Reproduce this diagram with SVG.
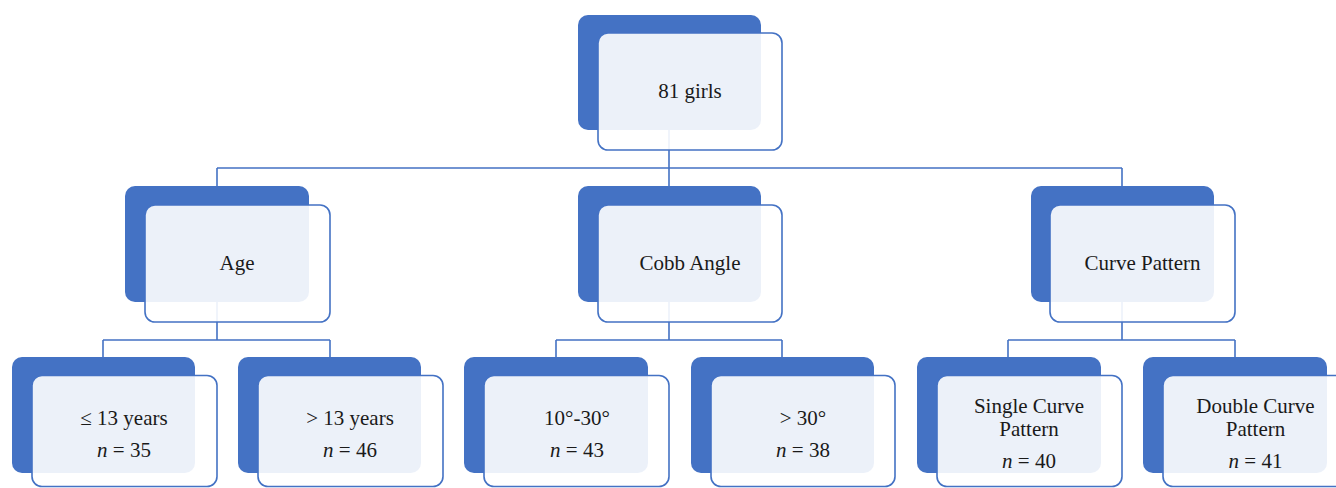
<svg xmlns="http://www.w3.org/2000/svg" width="1336" height="488" viewBox="0 0 1336 488">
  <style>
    .back { fill: #4472c4; }
    .front { fill: #ffffff; fill-opacity: 0.9; stroke: #4472c4; stroke-width: 1.6; }
    .link { fill: none; stroke: #4472c4; stroke-width: 1.6; }
    .label { font-family: "Liberation Serif", "DejaVu Serif", serif; font-size: 21px; fill: #1a1a1a; text-anchor: middle; }
    .n { font-style: italic; }
  </style>
  <rect x="0" y="0" width="1336" height="488" fill="#ffffff"/>

  <!-- connectors -->
  <g id="connectors">
    <path class="link" d="M669,130 V168 M217,168 H1122 M217,168 V186 M669,168 V186 M1122,168 V186"/>
    <path class="link" d="M217,302 V340 M103,340 H330 M103,340 V357 M330,340 V357"/>
    <path class="link" d="M669,302 V340 M556,340 H782 M556,340 V357 M782,340 V357"/>
    <path class="link" d="M1122,302 V340 M1008,340 H1235 M1008,340 V357 M1235,340 V357"/>
  </g>

  <!-- root -->
  <g id="node-root">
    <rect class="back" x="578" y="15" width="183" height="115" rx="10"/>
    <rect class="front" x="598" y="33" width="184" height="117" rx="10"/>
    <text class="label" x="690" y="98">81 girls</text>
  </g>

  <!-- second level -->
  <g id="node-age">
    <rect class="back" x="125" y="186" width="184" height="116" rx="10"/>
    <rect class="front" x="145" y="205" width="185" height="117" rx="10"/>
    <text class="label" x="237" y="270">Age</text>
  </g>
  <g id="node-cobb">
    <rect class="back" x="578" y="186" width="183" height="116" rx="10"/>
    <rect class="front" x="598" y="205" width="184" height="117" rx="10"/>
    <text class="label" x="690" y="270">Cobb Angle</text>
  </g>
  <g id="node-curve">
    <rect class="back" x="1031" y="186" width="183" height="116" rx="10"/>
    <rect class="front" x="1050" y="205" width="185" height="117" rx="10"/>
    <text class="label" x="1142.5" y="270">Curve Pattern</text>
  </g>

  <!-- third level -->
  <g id="node-age-young">
    <rect class="back" x="12" y="357" width="183" height="116" rx="10"/>
    <rect class="front" x="32" y="375.5" width="185" height="111" rx="10"/>
    <text class="label" x="124" y="425">≤ 13 years</text>
    <text class="label" x="124" y="457"><tspan class="n">n</tspan> = 35</text>
  </g>
  <g id="node-age-old">
    <rect class="back" x="238" y="357" width="183" height="116" rx="10"/>
    <rect class="front" x="258" y="375.5" width="185" height="111" rx="10"/>
    <text class="label" x="350" y="425">&gt; 13 years</text>
    <text class="label" x="350" y="457"><tspan class="n">n</tspan> = 46</text>
  </g>
  <g id="node-cobb-low">
    <rect class="back" x="464" y="357" width="184" height="116" rx="10"/>
    <rect class="front" x="484" y="375.5" width="185" height="111" rx="10"/>
    <text class="label" x="577" y="425">10°-30°</text>
    <text class="label" x="577" y="457"><tspan class="n">n</tspan> = 43</text>
  </g>
  <g id="node-cobb-high">
    <rect class="back" x="691" y="357" width="183" height="116" rx="10"/>
    <rect class="front" x="711" y="375.5" width="184" height="111" rx="10"/>
    <text class="label" x="803" y="425">&gt; 30°</text>
    <text class="label" x="803" y="457"><tspan class="n">n</tspan> = 38</text>
  </g>
  <g id="node-curve-single">
    <rect class="back" x="917" y="357" width="184" height="116" rx="10"/>
    <rect class="front" x="937" y="375.5" width="185" height="111" rx="10"/>
    <text class="label" x="1029" y="413">Single Curve</text>
    <text class="label" x="1029" y="436">Pattern</text>
    <text class="label" x="1029" y="468"><tspan class="n">n</tspan> = 40</text>
  </g>
  <g id="node-curve-double">
    <rect class="back" x="1143" y="357" width="184" height="116" rx="10"/>
    <rect class="front" x="1163" y="375.5" width="185" height="111" rx="10"/>
    <text class="label" x="1255.5" y="413">Double Curve</text>
    <text class="label" x="1255.5" y="436">Pattern</text>
    <text class="label" x="1255.5" y="468"><tspan class="n">n</tspan> = 41</text>
  </g>
</svg>
